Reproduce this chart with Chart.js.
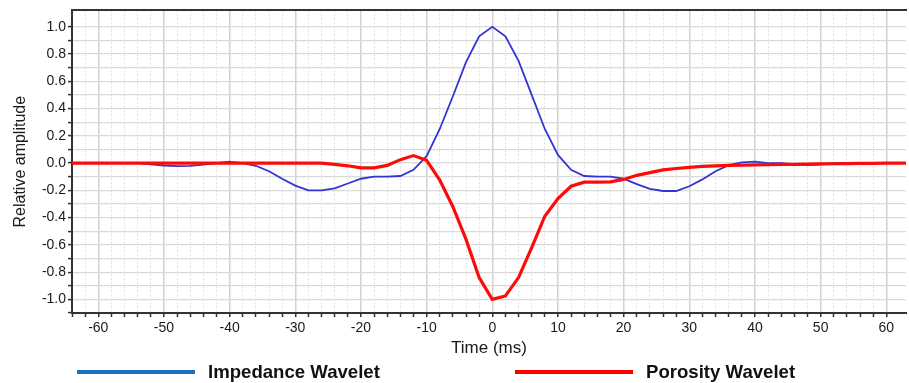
<!DOCTYPE html>
<html>
<head>
<meta charset="utf-8">
<title>Impedance and porosity wavelets</title>
<script src="https://cdn.jsdelivr.net/npm/chart.js@4.4.1/dist/chart.umd.min.js"></script>
<style>
  html, body { margin: 0; padding: 0; background: #fff; }
  #wrap { position: relative; width: 909px; height: 383px; }
  #legend { position: absolute; left: 0; top: 361px; width: 909px; height: 22px;
            font: bold 18.6px "Liberation Sans", Arial, sans-serif; color: #111; }
  .item { position: absolute; top: 0; height: 22px; display: flex; align-items: center; white-space: nowrap; }
  .swatch { width: 118px; height: 4px; margin-right: 13px; }
</style>
</head>
<body>
<div id="wrap">
  <canvas id="chart" width="909" height="383"></canvas>
  <div id="legend"></div>
</div>
<script>
// time samples, every 2 ms
const timeMs = [
  -64, -62, -60, -58, -56, -54, -52, -50, -48, -46, -44, -42, -40, -38, -36, -34, -32,
  -30, -28, -26, -24, -22, -20, -18, -16, -14, -12, -10, -8, -6, -4, -2,
  0, 2, 4, 6, 8, 10, 12, 14, 16, 18, 20, 22, 24, 26, 28, 30,
  32, 34, 36, 38, 40, 42, 44, 46, 48, 50, 52, 54, 56, 58, 60, 62, 64
];

const impedanceWavelet = [
  0, 0, 0, 0, 0, 0, -0.01, -0.018, -0.022, -0.02, -0.012, 0, 0.01, 0, -0.02, -0.06, -0.115,
  -0.165, -0.2, -0.2, -0.185, -0.15, -0.115, -0.1, -0.1, -0.095, -0.05, 0.05, 0.25, 0.49, 0.74, 0.93,
  1.0, 0.93, 0.75, 0.5, 0.25, 0.06, -0.05, -0.095, -0.1, -0.1, -0.115, -0.155, -0.19, -0.205, -0.205, -0.17,
  -0.12, -0.06, -0.015, 0.005, 0.01, 0, 0, -0.01, -0.015, -0.01, 0, 0, 0, 0, 0, 0, 0
];

const porosityWavelet = [
  0, 0, 0, 0, 0, 0, 0, 0, 0, 0, 0, 0, 0, 0, 0, 0, 0,
  0, 0, 0, -0.01, -0.02, -0.035, -0.035, -0.017, 0.025, 0.055, 0.02, -0.125, -0.32, -0.56, -0.84,
  -1.0, -0.975, -0.84, -0.62, -0.39, -0.26, -0.17, -0.14, -0.14, -0.138, -0.12, -0.09, -0.07, -0.05, -0.04, -0.032,
  -0.025, -0.02, -0.017, -0.015, -0.013, -0.012, -0.01, -0.01, -0.008, -0.006, -0.005, -0.004, -0.003, -0.002, -0.001, 0, 0
];

const seriesNames = ['Impedance Wavelet', 'Porosity Wavelet'];
const xTitle = 'Time (ms)';
const yTitle = 'Relative amplitude';

const font = '"Liberation Sans", Arial, sans-serif';
const axisDark = '#333333';

const toPoints = (vals) => vals.map((v, i) => ({ x: timeMs[i], y: v }));

const onStep = (v, step) => Math.abs(v / step - Math.round(v / step)) < 1e-6;

const chart = new Chart(document.getElementById('chart'), {
  type: 'line',
  data: {
    datasets: [
      {
        label: seriesNames[0],
        data: toPoints(impedanceWavelet),
        borderColor: '#3434d2',
        borderWidth: 1.8,
        pointRadius: 0,
        tension: 0,
        order: 2,
        legendColor: '#1f70c1'
      },
      {
        label: seriesNames[1],
        data: toPoints(porosityWavelet),
        borderColor: '#ff0a0a',
        borderWidth: 3.2,
        pointRadius: 0,
        tension: 0,
        order: 1,
        legendColor: '#ff0000'
      }
    ]
  },
  options: {
    responsive: false,
    animation: false,
    layout: { padding: { top: 9, right: 0, bottom: 20, left: 0 } },
    plugins: { legend: { display: false }, tooltip: { enabled: false } },
    scales: {
      x: {
        type: 'linear',
        min: -64,
        max: 63,
        afterFit: (s) => { s.height = 50; },
        ticks: {
          stepSize: 2,
          autoSkip: false,
          maxRotation: 0,
          padding: 3,
          color: '#1a1a1a',
          font: { family: font, size: 14 },
          callback: (v) => (onStep(v, 10) ? String(Math.round(v)) : '')
        },
        grid: {
          color: (c) => {
            if (!c.tick) return 'transparent';
            const v = c.tick.value;
            if (!onStep(v, 2)) return 'transparent';
            return onStep(v, 10) ? '#d2d2d2' : '#e0e0e0';
          },
          lineWidth: (c) => (c.tick && onStep(c.tick.value, 10) ? 1.5 : 1),
          tickLength: 4,
          tickWidth: 1.5,
          tickColor: (c) => (c.tick && onStep(c.tick.value, 2) ? axisDark : 'transparent')
        },
        border: {
          color: axisDark,
          width: 2,
          dash: (c) => (c.tick && !onStep(c.tick.value, 10) ? [2, 2] : [])
        },
        title: {
          display: true,
          text: xTitle,
          color: '#1a1a1a',
          font: { family: font, size: 17 },
          padding: { top: 4, bottom: 4 }
        }
      },
      xTop: {
        type: 'linear',
        position: 'top',
        min: -64,
        max: 63,
        afterFit: (s) => { s.height = 0; },
        ticks: { display: false },
        grid: { drawOnChartArea: false, drawTicks: false },
        border: { color: axisDark, width: 2 }
      },
      y: {
        min: -1.1,
        max: 1.12,
        afterFit: (s) => { s.width = 72; },
        ticks: {
          stepSize: 0.1,
          autoSkip: false,
          padding: 2,
          color: '#1a1a1a',
          font: { family: font, size: 14 },
          callback: (v) => (onStep(v, 0.2) ? (Math.round(v * 10) / 10).toFixed(1) : '')
        },
        grid: {
          color: (c) => (c.tick && onStep(c.tick.value, 0.1) ? '#dadada' : 'transparent'),
          lineWidth: 1.2,
          tickLength: 4,
          tickWidth: 1.5,
          tickColor: (c) => (c.tick && onStep(c.tick.value, 0.1) ? axisDark : 'transparent')
        },
        border: { color: axisDark, width: 2 },
        title: {
          display: true,
          text: yTitle,
          color: '#1a1a1a',
          font: { family: font, size: 16 },
          padding: { top: 11, bottom: 0 }
        }
      }
    }
  }
});

// legend under the chart, built from the datasets
const legendPos = [77, 515];
const legend = document.getElementById('legend');
chart.data.datasets.forEach((ds, i) => {
  const item = document.createElement('div');
  item.className = 'item';
  item.style.left = legendPos[i] + 'px';
  const sw = document.createElement('span');
  sw.className = 'swatch';
  sw.style.background = ds.legendColor;
  const txt = document.createElement('span');
  txt.textContent = ds.label;
  item.appendChild(sw);
  item.appendChild(txt);
  legend.appendChild(item);
});
</script>
</body>
</html>
